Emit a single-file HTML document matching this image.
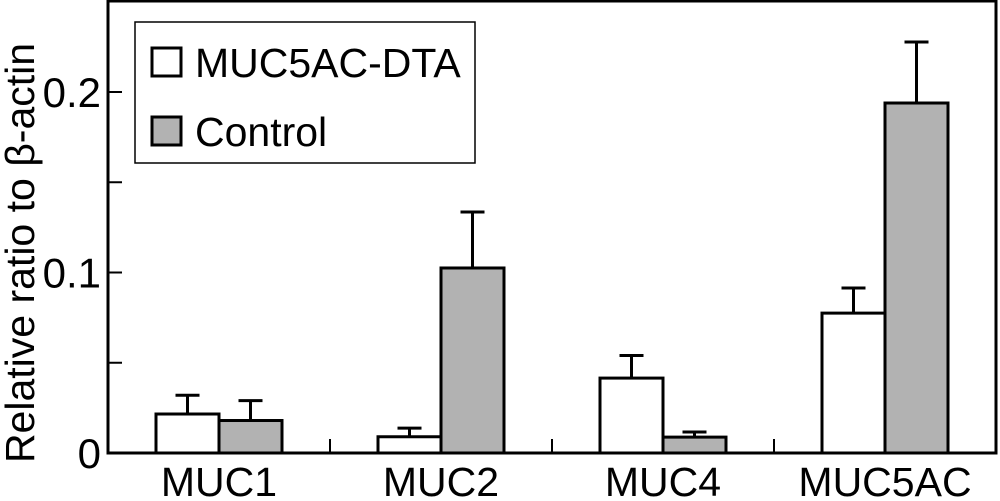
<!DOCTYPE html>
<html><head><meta charset="utf-8"><style>
html,body{margin:0;padding:0;background:#fff;}
svg{display:block;font-family:"Liberation Sans",Arial,sans-serif;}
</style></head><body>
<svg id="chart" width="1000" height="501" viewBox="0 0 1000 501"></svg>
<script>
const categories = ["MUC1","MUC2","MUC4","MUC5AC"];
const dtaValues = [0.0216, 0.009, 0.0415, 0.0775];
const dtaErrors = [0.0104, 0.0048, 0.0125, 0.0139];
const ctrlValues = [0.018, 0.1025, 0.0088, 0.1939];
const ctrlErrors = [0.011, 0.031, 0.0028, 0.0338];
const yTicks = [0, 0.1, 0.2];
const yTickLabels = ["0", "0.1", "0.2"];
const yMinorTicks = [0.05, 0.15];

const NS = "http://www.w3.org/2000/svg";
const svg = document.getElementById("chart");
const L = 108, R = 996, T = 1, B = 453;
const yScale = v => B - v * 1805;
const groupW = (R - L) / categories.length;
const xCenter = i => L + groupW * (i + 0.5);
const barW = 63;

function mk(tag, attrs, parent) {
  const e = document.createElementNS(NS, tag);
  for (const k in attrs) e.setAttribute(k, attrs[k]);
  (parent || svg).appendChild(e);
  return e;
}

const frame = mk("rect", {x: L, y: T, width: R - L, height: B - T, fill: "none", stroke: "#000", "stroke-width": 3});



yTicks.forEach((v, i) => {
  const y = yScale(v);
  const t = mk("line", {x1: L, x2: L + 14, y1: y, y2: y, stroke: "#000", "stroke-width": 2});
  
  
  const lb = mk("text", {x: 101, y: y + 15, "text-anchor": "end", "font-size": 42, fill: "#000"});
  lb.textContent = yTickLabels[i];
  
  
});
yMinorTicks.forEach(v => {
  const y = yScale(v);
  const t = mk("line", {x1: L, x2: L + 14, y1: y, y2: y, stroke: "#000", "stroke-width": 2});
  
  
});

for (let i = 1; i < categories.length; i++) {
  const x = L + groupW * i;
  const t = mk("line", {x1: x, x2: x, y1: B, y2: B - 14, stroke: "#000", "stroke-width": 2});
  
  
}

function bar(i, v, err, fill, left, name) {
  const x = left ? xCenter(i) - barW : xCenter(i);
  const cx = x + barW / 2;
  const ytop = yScale(v), yerr = yScale(v + err);
  const el = mk("line", {x1: cx, x2: cx, y1: ytop, y2: yerr, stroke: "#000", "stroke-width": 3});
  
  
  const cap = mk("line", {x1: cx - 12, x2: cx + 12, y1: yerr, y2: yerr, stroke: "#000", "stroke-width": 3});
  
  
  const r = mk("rect", {x: x, y: ytop, width: barW, height: B - ytop, fill: fill, stroke: "#000", "stroke-width": 3});
  
  
}
categories.forEach((c, i) => {
  bar(i, dtaValues[i], dtaErrors[i], "#fff", true, "bar-dta-" + c.toLowerCase());
  bar(i, ctrlValues[i], ctrlErrors[i], "#b2b2b2", false, "bar-control-" + c.toLowerCase());
  const lb = mk("text", {x: xCenter(i), y: 496, "text-anchor": "middle", "font-size": 41, fill: "#000"});
  lb.textContent = c;
  
  
});

const yt = mk("text", {x: 0, y: 0, transform: "translate(34,253) rotate(-90)", "text-anchor": "middle", "font-size": 41, fill: "#000"});
yt.textContent = "Relative ratio to \u03B2-actin";



const lg = mk("g", {});


mk("rect", {x: 135, y: 22, width: 340, height: 141, fill: "#fff", stroke: "#000", "stroke-width": 1.5}, lg);
const items = [["MUC5AC-DTA", "#fff", 48], ["Control", "#b2b2b2", 117]];
items.forEach(([t, f, y]) => {
  const s = mk("rect", {x: 152, y: y, width: 29, height: 28, fill: f, stroke: "#000", "stroke-width": 3}, lg);
  
  
  const tx = mk("text", {x: 195, y: y + 29, "font-size": 41, fill: "#000"}, lg);
  tx.textContent = t;
  
  
});
</script>
</body></html>
